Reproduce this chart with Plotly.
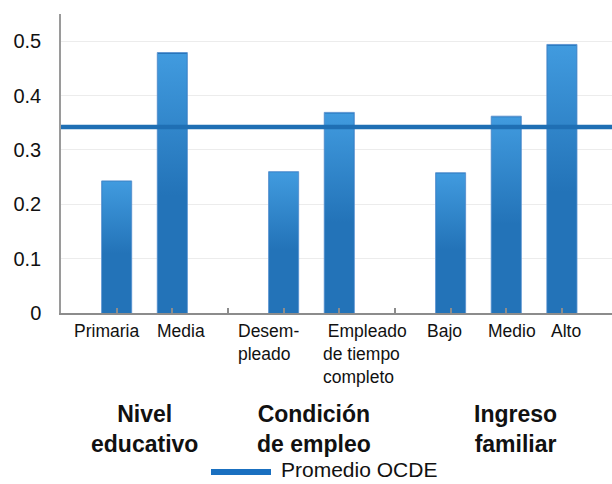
import plotly.graph_objects as go

# ---- data ----
categories = ["Primaria", "Media", "Desempleado", "Empleado de tiempo completo", "Bajo", "Medio", "Alto"]
values = [0.243, 0.479, 0.260, 0.369, 0.258, 0.362, 0.494]
slot_positions = [0, 1, 3, 4, 6, 7, 8]          # category slots on the axis (2 and 5 empty)
ocde_average = 0.342
group_labels = ["Nivel<br>educativo", "Condición<br>de empleo", "Ingreso<br>familiar"]
tick_label_texts = ["Primaria", "Media", "Desem-<br>pleado", "&nbsp;Empleado<br>de tiempo<br>completo", "Bajo", "Medio", "Alto"]
legend_label = "Promedio OCDE"
y_ticks = [0, 0.1, 0.2, 0.3, 0.4, 0.5]

# ---- layout geometry (pixels) ----
W, H = 612, 484
L, R, T, B = 61, 0, 14, 171
PW, PH = W - L - R, H - T - B
def px(x):
    return (x - L) / PW
def py(y):
    return (H - B - y) / PH

FONT = "Arial, Liberation Sans, sans-serif"
BAR_DARK = "#2373b8"
BAR_LIGHT = "#419bdf"
BAR_WIDTH = 0.54

fig = go.Figure()
fig.add_trace(go.Bar(
    x=slot_positions, y=values, width=BAR_WIDTH,
    marker=dict(color=BAR_DARK, line=dict(color="rgba(95,150,210,0.95)", width=1)),
    showlegend=False, hoverinfo="x+y",
))

# vertical gradient over each bar, derived from the bar values
for xpos, v in zip(slot_positions, values):
    x0, x1 = xpos - BAR_WIDTH / 2 + 0.01, xpos + BAR_WIDTH / 2 - 0.01
    fig.add_trace(go.Scatter(
        x=[x0, x0, x1, x1, x0], y=[0, v * 0.995, v * 0.995, 0, 0],
        mode="lines", line=dict(width=0), fill="toself",
        fillgradient=dict(type="vertical", start=0, stop=v,
                          colorscale=[[0, BAR_DARK], [0.45, BAR_DARK], [1, BAR_LIGHT]]),
        showlegend=False, hoverinfo="skip",
    ))

fig.add_hline(y=ocde_average, line=dict(color="#1f6fb4", width=4.5), layer="above")

annotations = []
label_specs = [
    (106.5, "center"), (181, "center"), (236, "left"), (321, "left"),
    (444, "center"), (512, "center"), (566, "center"),
]
for text, (x, anchor) in zip(tick_label_texts, label_specs):
    annotations.append(dict(
        text=text, x=px(x), y=py(319), xref="paper", yref="paper",
        xanchor=anchor, yanchor="top", align="left", showarrow=False,
        font=dict(family=FONT, size=17.5, color="#111111"),
    ))
for text, x in zip(group_labels, [144, 314, 515]):
    annotations.append(dict(
        text="<b>" + text.replace("<br>", "</b><br><b>") + "</b>",
        x=px(x), y=py(399), xref="paper", yref="paper",
        xanchor="center", yanchor="top", align="center", showarrow=False,
        font=dict(family=FONT, size=23, color="#111111"),
    ))
annotations.append(dict(
    text=legend_label, x=px(279), y=py(469.5), xref="paper", yref="paper",
    xanchor="left", yanchor="middle", showarrow=False,
    font=dict(family=FONT, size=21, color="#111111"),
))

fig.add_shape(type="line", xref="paper", yref="paper",
              x0=px(211), x1=px(271), y0=py(472), y1=py(472),
              line=dict(color="#1a70c0", width=6))

fig.update_layout(
    width=W, height=H,
    margin=dict(l=L, r=R, t=T, b=B),
    paper_bgcolor="white", plot_bgcolor="white",
    showlegend=False,
    annotations=annotations,
    xaxis=dict(
        range=[-1, 8.9], tickvals=list(range(9)), ticktext=[""] * 9,
        ticks="inside", ticklen=5, tickcolor="#8c8c8c", tickwidth=1.5,
        showline=True, linecolor="#8c8c8c", linewidth=1.5,
        showgrid=False, zeroline=False, fixedrange=True,
    ),
    yaxis=dict(
        range=[0, 0.55], tickvals=y_ticks, ticks="",
        showline=True, linecolor="#9a9a9a", linewidth=1.5,
        showgrid=True, gridcolor="#ececec", gridwidth=1,
        zeroline=False, ticklabelstandoff=14,
        tickfont=dict(family=FONT, size=20, color="#111111"),
    ),
)

fig.write_html("out.html", config={"displayModeBar": False},
               post_script="document.body.style.margin='0';document.body.style.overflow='hidden';")
